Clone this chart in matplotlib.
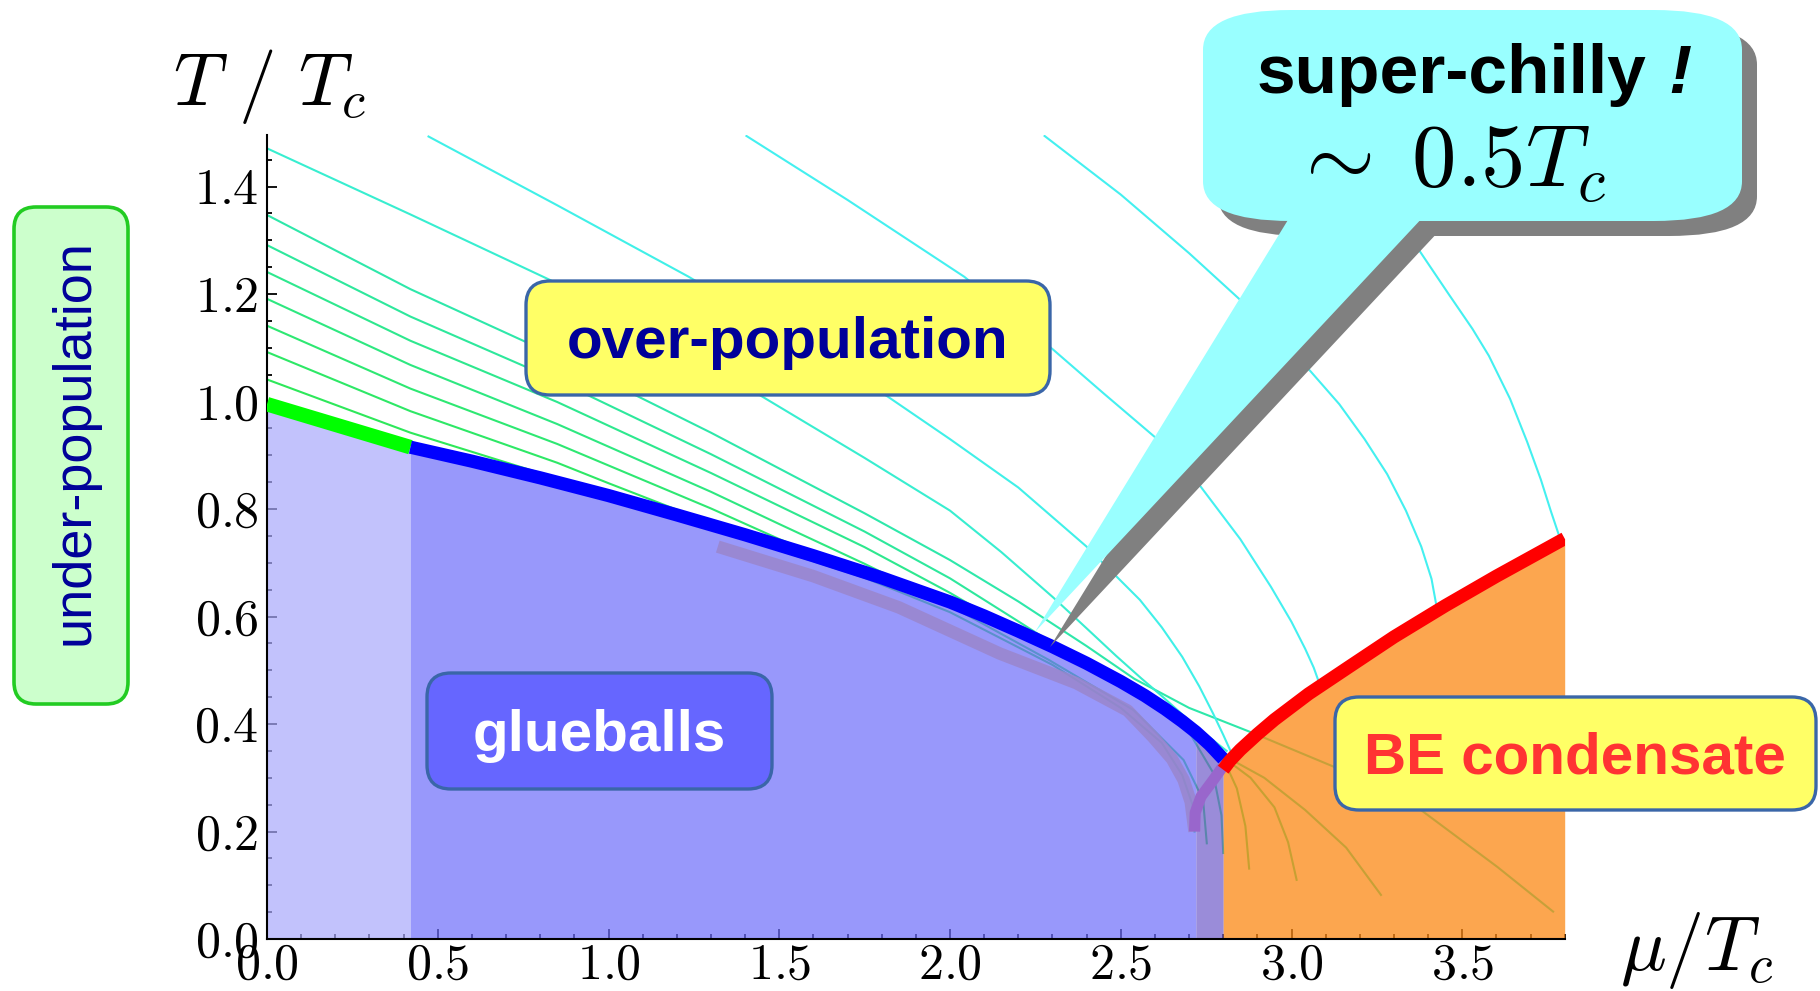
import matplotlib
matplotlib.use('Agg')
import matplotlib.pyplot as plt
from matplotlib.patches import FancyBboxPatch, Polygon
from matplotlib.ticker import MultipleLocator

plt.rcParams['mathtext.fontset'] = 'cm'
plt.rcParams['font.family'] = ['Liberation Sans', 'DejaVu Sans']

# phase boundary T(mu): green piece up to 0.42, blue piece after it
edge_mu = [0.0, 0.42, 0.6, 0.8, 1.0, 1.2, 1.4, 1.6, 1.8, 2.0, 2.1, 2.2, 2.3, 2.4,
           2.5, 2.57, 2.63, 2.68, 2.72, 2.76, 2.80]
edge_T = [0.995, 0.915, 0.889, 0.858, 0.825, 0.789, 0.752, 0.713, 0.672, 0.627, 0.601,
          0.573, 0.544, 0.513, 0.479, 0.453, 0.428, 0.405, 0.385, 0.362, 0.335]

# onset of Bose-Einstein condensation
red_mu = [2.80, 2.82, 2.85, 2.9, 2.95, 3.05, 3.17, 3.3, 3.45, 3.6, 3.80]
red_T = [0.315, 0.332, 0.352, 0.381, 0.408, 0.456, 0.507, 0.562, 0.62, 0.675, 0.745]

# broad purple band under the boundary and its hook near mu ~ 2.7
band_mu = [1.32, 1.6, 1.85, 2.146, 2.37, 2.52, 2.594, 2.65, 2.684, 2.705, 2.716]
band_T = [0.730, 0.675, 0.617, 0.531, 0.476, 0.425, 0.376, 0.335, 0.296, 0.255, 0.20]
hook_mu = [2.798, 2.77, 2.735, 2.718, 2.716]
hook_T = [0.32, 0.295, 0.265, 0.235, 0.20]

# trajectories starting on the T axis (green family)
green_mu = [
    [0, 0.42, 0.85, 1.0, 1.3, 1.75, 2.0, 2.3, 2.5, 2.62, 2.68, 2.71, 2.716],
    [0, 0.42, 0.85, 1.0, 1.3, 1.35, 1.75, 2.0, 2.29, 2.537, 2.684, 2.741, 2.752],
    [0, 0.42, 0.85, 1.3, 1.5, 1.65, 2.0, 2.2, 2.4, 2.57, 2.7, 2.77, 2.795, 2.80],
    [0, 0.42, 0.85, 1.3, 1.5, 1.75, 1.9, 2.2, 2.4, 2.57, 2.7, 2.8, 2.84, 2.865, 2.876],
    [0, 0.42, 0.85, 1.3, 1.75, 2.0, 2.15, 2.4, 2.57, 2.7, 2.8, 2.88, 2.95, 2.99, 3.015],
    [0, 0.42, 0.85, 1.3, 1.75, 2.0, 2.2, 2.35, 2.57, 2.7, 2.8, 2.92, 3.04, 3.16, 3.262],
    [0, 0.42, 0.85, 1.3, 1.75, 2.0, 2.2, 2.4, 2.54, 2.7, 2.888, 3.122, 3.379, 3.603, 3.766],
]
green_T = [
    [1.041, 0.942, 0.857, 0.824, 0.764, 0.672, 0.608, 0.51, 0.43, 0.365, 0.305, 0.25, 0.20],
    [1.092, 0.982, 0.886, 0.848, 0.774, 0.762, 0.680, 0.620, 0.519, 0.426, 0.333, 0.259, 0.178],
    [1.141, 1.024, 0.921, 0.801, 0.744, 0.705, 0.624, 0.568, 0.506, 0.447, 0.385, 0.31, 0.23, 0.16],
    [1.191, 1.068, 0.958, 0.832, 0.772, 0.698, 0.651, 0.571, 0.511, 0.454, 0.396, 0.336, 0.28, 0.21, 0.131],
    [1.241, 1.113, 0.999, 0.867, 0.729, 0.644, 0.588, 0.512, 0.455, 0.397, 0.338, 0.30, 0.245, 0.18, 0.11],
    [1.291, 1.158, 1.039, 0.902, 0.758, 0.671, 0.591, 0.53, 0.456, 0.398, 0.342, 0.30, 0.24, 0.17, 0.082],
    [1.347, 1.209, 1.084, 0.942, 0.792, 0.705, 0.628, 0.545, 0.484, 0.43, 0.383, 0.321, 0.24, 0.134, 0.051],
]
green_colors = ['#2EE85A', '#2EE866', '#2EE872', '#2EE880', '#2EE88E', '#2EE89C', '#2EE8AA']

# trajectories coming in from the top (cyan family)
cyan_mu = [
    [0, 0.42, 0.829, 1.15, 1.44, 1.75, 2.0, 2.15, 2.303, 2.4, 2.486, 2.56, 2.615, 2.68,
     2.73, 2.77, 2.81],
    [0.473, 0.85, 1.235, 1.55, 1.818, 2.0, 2.2, 2.4, 2.556, 2.62, 2.68, 2.73, 2.77, 2.80,
     2.825],
    [1.404, 1.7, 2.042, 2.303, 2.45, 2.607, 2.73, 2.85, 2.94, 3.0, 3.04, 3.065, 3.083],
    [2.277, 2.5, 2.7, 2.85, 2.96, 3.056, 3.14, 3.214, 3.28, 3.335, 3.38, 3.41, 3.427],
    [3.05, 3.2, 3.3, 3.372, 3.46, 3.53, 3.578, 3.64, 3.69, 3.73, 3.76, 3.788],
]
cyan_T = [
    [1.471, 1.348, 1.226, 1.12, 1.013, 0.895, 0.797, 0.72, 0.635, 0.578, 0.527, 0.485,
     0.455, 0.418, 0.39, 0.37, 0.35],
    [1.493, 1.365, 1.232, 1.113, 1.009, 0.93, 0.84, 0.73, 0.631, 0.58, 0.525, 0.47, 0.42,
     0.38, 0.345],
    [1.494, 1.375, 1.232, 1.096, 1.015, 0.93, 0.845, 0.744, 0.655, 0.59, 0.54, 0.505, 0.473],
    [1.494, 1.385, 1.276, 1.189, 1.12, 1.056, 0.995, 0.93, 0.865, 0.797, 0.73, 0.67, 0.611],
    [1.494, 1.41, 1.345, 1.283, 1.2, 1.135, 1.085, 1.005, 0.925, 0.855, 0.795, 0.742],
]
cyan_colors = ['#38EED0', '#40F0E8', '#44F0F0', '#44F0F0', '#44F0F0']

x_ticks = [0.0, 0.5, 1.0, 1.5, 2.0, 2.5, 3.0, 3.5]
y_ticks = [0.0, 0.2, 0.4, 0.6, 0.8, 1.0, 1.2, 1.4]

fig = plt.figure(figsize=(18.2, 9.91), dpi=100)
ax = fig.add_axes([267 / 1820, 52 / 991, 1297.7 / 1820, 1.495 * 537.5 / 991])

for mu, T, c in zip(green_mu, green_T, green_colors):
    ax.plot(mu, T, color=c, lw=1.5, zorder=1)
for mu, T, c in zip(cyan_mu, cyan_T, cyan_colors):
    ax.plot(mu, T, color=c, lw=1.5, zorder=1)

# translucent regions, so the trajectories show through them
ax.fill_between(edge_mu[:2], 0, edge_T[:2], color='#A8A8FB', alpha=0.7, lw=0, zorder=2)
ax.fill_between(edge_mu[1:19], 0, edge_T[1:19], color='#6D6DFA', alpha=0.7, lw=0, zorder=2)
ax.fill_between(edge_mu[18:], 0, edge_T[18:], color='#6F5BCA', alpha=0.7, lw=0, zorder=2)
ax.fill_between(red_mu, 0, red_T, color='#FB8814', alpha=0.75, lw=0, zorder=2)

ax.plot(band_mu, band_T, color='#9A86CC', lw=9, alpha=0.85, solid_capstyle='butt',
        solid_joinstyle='round', zorder=3)
ax.plot(hook_mu, hook_T, color='#9966CC', lw=8, solid_capstyle='butt',
        solid_joinstyle='round', zorder=3)

thick = dict(solid_capstyle='butt', solid_joinstyle='round', zorder=4)
ax.plot(edge_mu[:2], edge_T[:2], color='#00FF00', lw=10.5, **thick)
ax.plot(edge_mu[1:], edge_T[1:], color='#0000FF', lw=9.5, **thick)
ax.plot(red_mu, red_T, color='#FF0000', lw=9.5, **thick)

ax.set_xlim(0, 3.8)
ax.set_ylim(0, 1.495)
ax.set_xticks(x_ticks)
ax.set_xticklabels([f'${v:.1f}$' for v in x_ticks])
ax.set_yticks(y_ticks)
ax.set_yticklabels([f'${v:.1f}$' for v in y_ticks])
ax.xaxis.set_minor_locator(MultipleLocator(0.1))
ax.yaxis.set_minor_locator(MultipleLocator(0.05))
ax.tick_params(which='both', direction='in', width=1.3, labelsize=36)
ax.tick_params(which='major', length=7)
ax.tick_params(which='minor', length=3.5)
ax.tick_params(axis='x', pad=3)
ax.tick_params(axis='y', pad=6)
for s in ['top', 'right']:
    ax.spines[s].set_visible(False)
for s in ['left', 'bottom']:
    ax.spines[s].set_linewidth(1.5)
ax.patch.set_alpha(0)

# overlay in pixel units for the labels and callouts
ov = fig.add_axes([0, 0, 1, 1], zorder=5)
ov.set_xlim(0, 1820)
ov.set_ylim(991, 0)
ov.axis('off')


def rbox(x0, y0, x1, y1, face, edge, r=24, lw=2.4, aspect=1.0):
    ov.add_patch(FancyBboxPatch((x0, y0), x1 - x0, y1 - y0,
                                boxstyle=f'round,pad=0,rounding_size={r}',
                                mutation_aspect=aspect, fc=face, ec=edge, lw=lw))


rbox(526, 281, 1050, 395, '#FFFF66', '#3A66A8')
ov.text(788, 358, 'over-population', color='#000099', fontsize=42,
        fontweight='bold', ha='center', va='baseline')

rbox(427, 673, 772, 789, '#6666FF', '#3A66A8')
ov.text(599, 751, 'glueballs', color='white', fontsize=42,
        fontweight='bold', ha='center', va='baseline')

rbox(1335, 697, 1816, 810, '#FFFF66', '#3A66A8')
ov.text(1575, 773, 'BE condensate', color='#FF3333', fontsize=42,
        fontweight='bold', ha='center', va='baseline')

rbox(14, 207, 128, 704, '#CCFFCC', '#22CC22', r=22, lw=2.6)
ov.text(75, 442, 'under-population', color='#000099', fontsize=39,
        rotation=90, ha='center', va='center')

# speech bubble with drop shadow
sh = 15
rbox(1203 + sh, 10 + sh, 1742 + sh, 221 + sh, '#808080', 'none', r=88, lw=0, aspect=0.45)
ov.add_patch(Polygon([(1291 + sh, 215 + sh), (1425 + sh, 215 + sh), (1035 + sh, 632 + sh)],
                     closed=True, fc='#808080', ec='none'))
rbox(1203, 10, 1742, 221, '#99FFFF', 'none', r=88, lw=0, aspect=0.45)
ov.add_patch(Polygon([(1291, 215), (1425, 215), (1035, 632)],
                     closed=True, fc='#99FFFF', ec='none'))
ov.text(1257, 93, 'super-chilly', fontsize=50, fontweight='bold', ha='left', va='baseline')
ov.text(1668, 93, '!', fontsize=50, fontweight='bold', style='italic', ha='left', va='baseline')
ov.text(1290, 187, r'$\sim\;0.5T_c$', fontsize=64, ha='left', va='baseline')

ov.text(173, 105, r'$T\ /\ T_c$', fontsize=54, ha='left', va='baseline')
ov.text(1620, 970, r'$\mu/T_c$', fontsize=55, ha='left', va='baseline')

fig.savefig('out.png', dpi=100)
